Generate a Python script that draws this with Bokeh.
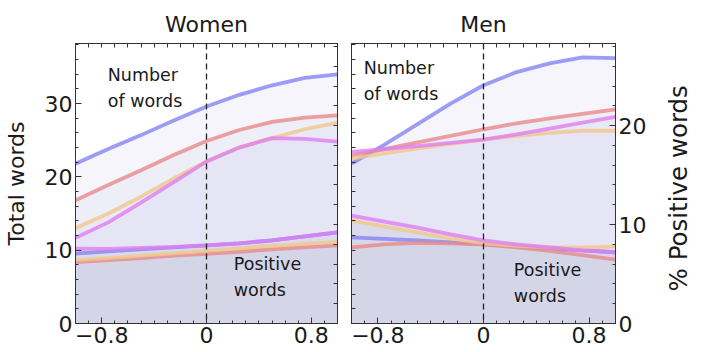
import math
from bokeh.plotting import figure
from bokeh.layouts import row
from bokeh.models import Range1d, LinearAxis, FixedTicker, Span, Label
from bokeh.embed import file_html
from bokeh.resources import INLINE

# ---------------- data ----------------
xs = [-1.0, -0.75, -0.5, -0.25, 0.0, 0.25, 0.5, 0.75, 1.0]
panel_titles = ["Women", "Men"]
series_names = ["blue", "red", "orange", "pink"]
x_ticks = [-0.8, 0.0, 0.8]
x_tick_labels = ["\u22120.8", "0", "0.8"]
words_ticks = [0, 10, 20, 30]
pct_ticks = [0, 10, 20]

# total number of words (left axis)
women_words_blue = [21.8, 23.8, 25.7, 27.7, 29.6, 31.2, 32.5, 33.5, 34.0]
women_words_red = [16.8, 18.9, 20.9, 23.0, 24.9, 26.4, 27.5, 28.1, 28.4]
women_words_orange = [13.0, 15.0, 17.3, 19.8, 22.1, 24.0, 25.3, 26.5, 27.4]
women_words_pink = [11.7, 13.8, 16.5, 19.3, 22.1, 24.0, 25.3, 25.2, 24.8]

men_words_blue = [21.8, 24.4, 27.2, 30.0, 32.5, 34.3, 35.5, 36.3, 36.2]
men_words_red = [22.9, 23.8, 24.7, 25.6, 26.5, 27.3, 28.0, 28.6, 29.2]
men_words_orange = [22.5, 23.2, 23.9, 24.5, 25.1, 25.6, 26.0, 26.3, 26.3]
men_words_pink = [23.4, 23.8, 24.2, 24.65, 25.1, 25.8, 26.6, 27.4, 28.2]

# % positive words (right axis)
women_pct_blue = [7.06, 7.3, 7.5, 7.7, 7.9, 8.1, 8.4, 8.8, 9.2]
women_pct_red = [6.2, 6.4, 6.6, 6.85, 7.05, 7.25, 7.5, 7.7, 7.9]
women_pct_orange = [6.4, 6.6, 6.85, 7.1, 7.35, 7.6, 7.85, 8.05, 8.25]
women_pct_pink = [7.56, 7.55, 7.65, 7.75, 7.9, 8.1, 8.4, 8.8, 9.2]

men_pct_blue = [8.7, 8.55, 8.4, 8.2, 8.0, 7.8, 7.6, 7.4, 7.2]
men_pct_red = [7.7, 8.0, 8.15, 8.1, 8.0, 7.7, 7.35, 6.9, 6.45]
men_pct_orange = [10.4, 9.8, 9.2, 8.6, 8.1, 7.85, 7.7, 7.7, 7.8]
men_pct_pink = [10.9, 10.3, 9.7, 9.0, 8.4, 8.0, 7.7, 7.4, 7.2]

words_data = [
    [women_words_blue, women_words_red, women_words_orange, women_words_pink],
    [men_words_blue, men_words_red, men_words_orange, men_words_pink],
]
pct_data = [
    [women_pct_blue, women_pct_red, women_pct_orange, women_pct_pink],
    [men_pct_blue, men_pct_red, men_pct_orange, men_pct_pink],
]
right_axis_title = "% Positive words"

# ---------------- style ----------------
line_colors = {"blue": "#8484f2", "red": "#e88a8a", "orange": "#f0c88c", "pink": "#e07ef0"}
FONT = "DejaVu Sans"
TXT = "#1a1a1a"
WORDS_MAX = 38.2
PCT_MAX = 28.3
minor_x = [round(-1.0 + 0.1 * i, 2) for i in range(21)]
minor_w = list(range(0, 40, 2))
minor_p = list(range(0, 30, 2))


def style_axis(ax):
    ax.major_tick_in = 6
    ax.major_tick_out = 0
    ax.minor_tick_in = 3
    ax.minor_tick_out = 0
    ax.axis_line_color = "#333333"
    ax.major_tick_line_color = "#333333"
    ax.minor_tick_line_color = "#333333"
    ax.major_label_text_font = FONT
    ax.major_label_text_color = TXT
    ax.major_label_text_font_size = "22px"
    ax.major_label_standoff = 3
    ax.axis_label_text_font = FONT
    ax.axis_label_text_font_style = "normal"
    ax.axis_label_text_color = TXT
    ax.axis_label_text_font_size = "22px"


def bare_axis(ax, ticks, minors):
    # tick marks only (no labels)
    ax.ticker = FixedTicker(ticks=[], minor_ticks=sorted(set(minors) | set(ticks)))
    ax.major_tick_in = 0
    ax.major_tick_out = 0
    ax.minor_tick_in = 4
    ax.minor_tick_out = 0
    ax.axis_line_color = "#333333"
    ax.minor_tick_line_color = "#333333"
    ax.major_label_standoff = 0


def make_panel(idx, width, left, right):
    p = figure(width=width, height=352, output_backend="svg", toolbar_location=None,
               x_range=Range1d(-1.0, 1.0), y_range=Range1d(0, WORDS_MAX),
               min_border_left=left, min_border_right=right,
               min_border_top=43, min_border_bottom=29,
               x_axis_location=None, y_axis_location=None)
    p.extra_y_ranges = {"pct": Range1d(0, PCT_MAX)}
    p.grid.visible = False
    p.outline_line_color = "#333333"
    p.background_fill_color = "white"
    p.border_fill_color = "white"

    p.title.text = panel_titles[idx]
    p.title.align = "center"
    p.title.text_font = FONT
    p.title.text_font_size = "22px"
    p.title.text_font_style = "normal"
    p.title.text_color = TXT
    p.title.standoff = 13

    xb = LinearAxis(ticker=FixedTicker(ticks=x_ticks, minor_ticks=minor_x),
                    major_label_overrides={t: l for t, l in zip(x_ticks, x_tick_labels)})
    style_axis(xb)
    p.add_layout(xb, "below")
    xt = LinearAxis()
    bare_axis(xt, x_ticks, minor_x)
    p.add_layout(xt, "above")

    if idx == 0:
        yl = LinearAxis(ticker=FixedTicker(ticks=words_ticks, minor_ticks=minor_w))
        style_axis(yl)
        yl.axis_label = "Total words"
        yl.axis_label_standoff = 13
    else:
        yl = LinearAxis()
        bare_axis(yl, words_ticks, minor_w)
    p.add_layout(yl, "left")

    if idx == 1:
        yr = LinearAxis(y_range_name="pct", ticker=FixedTicker(ticks=pct_ticks, minor_ticks=minor_p))
        style_axis(yr)
    else:
        yr = LinearAxis(y_range_name="pct")
        bare_axis(yr, pct_ticks, minor_p)
    p.add_layout(yr, "right")

    for ys in words_data[idx]:
        p.varea(x=xs, y1=[0] * len(xs), y2=ys, fill_color="#dedef2", fill_alpha=0.3)
    for ys in pct_data[idx]:
        p.varea(x=xs, y1=[0] * len(xs), y2=ys, fill_color="#d1d1e4", fill_alpha=0.3,
                y_range_name="pct")

    for name, ys in zip(series_names, words_data[idx]):
        p.line(xs, ys, line_color=line_colors[name], line_width=3.8, line_alpha=0.8)
    for name, ys in zip(series_names, pct_data[idx]):
        p.line(xs, ys, line_color=line_colors[name], line_width=3.8, line_alpha=0.8,
               y_range_name="pct")

    p.add_layout(Span(location=0, dimension="height", line_color="#222222",
                      line_dash="6 4", line_width=1.3))

    if idx == 0:
        nx, ny, px, py = -0.754, 35.3, 0.208, 9.5
    else:
        nx, ny, px, py = -0.907, 36.2, 0.23, 8.7
    p.add_layout(Label(x=nx, y=ny, text="Number\nof words", text_font=FONT,
                       text_font_size="17.5px", text_color=TXT, text_baseline="top",
                       text_line_height=1.3))
    p.add_layout(Label(x=px, y=py, text="Positive\nwords", text_font=FONT,
                       text_font_size="17.5px", text_color=TXT, text_baseline="top",
                       text_line_height=1.3))
    return p


p1 = make_panel(0, 344, 74, 7)
p2 = make_panel(1, 316, 7, 45)

# narrow strip holding the right-hand axis title (reads bottom-to-top)
p3 = figure(width=54, height=352, output_backend="svg", toolbar_location=None,
            x_range=Range1d(0, 54), y_range=Range1d(0, 352),
            min_border_left=0, min_border_right=0, min_border_top=0, min_border_bottom=0,
            x_axis_location=None, y_axis_location=None)
p3.grid.visible = False
p3.outline_line_color = None
p3.background_fill_color = "white"
p3.border_fill_color = "white"
p3.add_layout(Label(x=18, y=170, text=right_axis_title, text_font=FONT,
                    text_font_size="24.5px", text_color=TXT, angle=math.pi / 2,
                    text_align="center", text_baseline="middle"))

layout = row(p1, p2, p3)

open("out.html", "w").write(file_html(layout, INLINE))
